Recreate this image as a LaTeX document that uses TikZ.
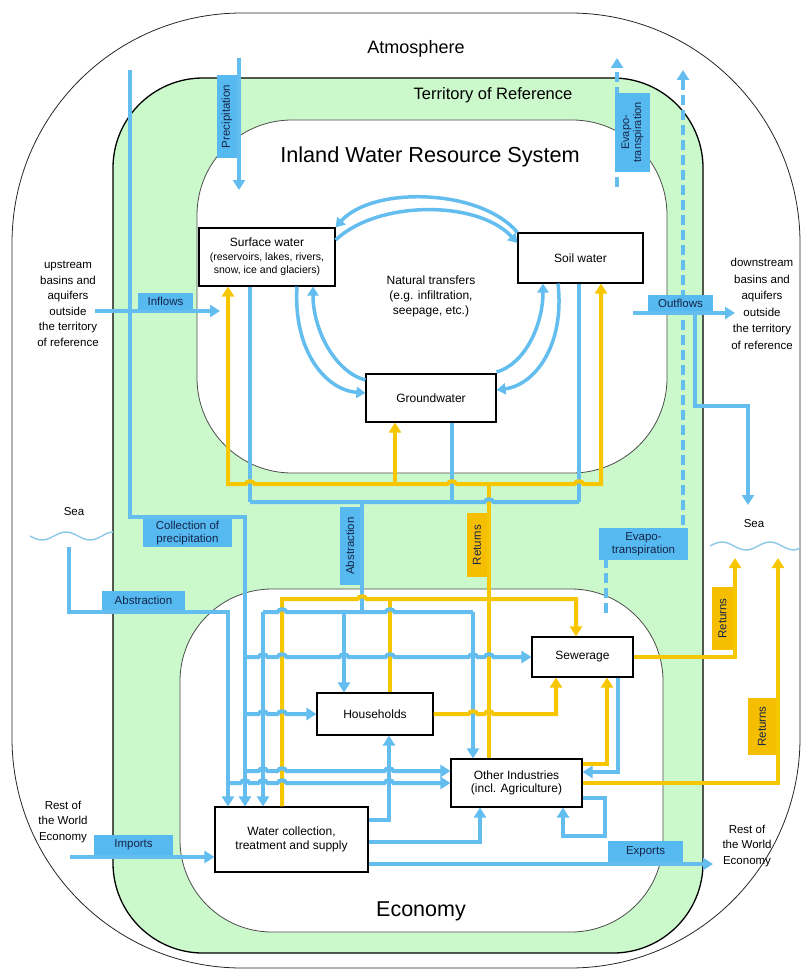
\documentclass[tikz,border=0pt]{standalone}
\usepackage{fontspec}
\setmainfont{Liberation Sans}
\usetikzlibrary{arrows.meta}
\definecolor{cBlue}{HTML}{63BDEE}
\definecolor{cLab}{HTML}{56B9F0}
\definecolor{cYel}{HTML}{F6C600}
\definecolor{cYlab}{HTML}{F5BE00}
\definecolor{cGreen}{HTML}{CCF9CC}
\definecolor{cTxt}{HTML}{15254A}
\definecolor{cWave}{HTML}{8FCBE8}
\newcommand\hp[2]{-- ({#1-4.5},#2) to[out=70,in=110,looseness=1.1] ({#1+4.5},#2)}
\begin{document}
\begin{tikzpicture}[x=1pt,y=-1pt,
  bl/.style={draw=cBlue,line width=4pt},
  ye/.style={draw=cYel,line width=4pt},
  arr/.style={-{Triangle[width=12pt,length=10pt]}},
  arrb/.style={{Triangle[width=12pt,length=10pt]}-{Triangle[width=12pt,length=10pt]}},
  nat/.style={draw=cBlue,line width=3.5pt,-{Triangle[width=11pt,length=9pt]}},
  dsh/.style={dash pattern=on 10pt off 5pt},
  box/.style={draw=black,line width=1.1pt,fill=white,align=center,inner sep=0pt,font=\fontsize{12}{13.5}\selectfont},
  blab/.style={fill=cLab,text=cTxt,align=center,inner sep=0pt,font=\fontsize{11.5}{12.5}\selectfont},
  ylab/.style={fill=cYlab,text=cTxt,align=center,inner sep=0pt,font=\fontsize{11.5}{12.5}\selectfont},
  otxt/.style={align=center,inner sep=0pt,font=\fontsize{11.5}{15.5}\selectfont},
  wave/.style={draw=cWave,line width=1.5pt}
]
\useasboundingbox (0,0) rectangle (801,971);
% regions
\draw[line width=0.8pt,black!85,rounded corners=230pt] (12,13) rectangle (800,968);
\filldraw[fill=cGreen,draw=black,line width=1.3pt,rounded corners=90pt] (113,78) rectangle (703,953);
\filldraw[fill=white,draw=black!70,line width=0.8pt,rounded corners=95pt] (197,120) rectangle (667,473);
\filldraw[fill=white,draw=black!70,line width=0.8pt,rounded corners=92pt] (180,589) rectangle (663,932);

% titles
\node[font=\fontsize{18}{20}\selectfont] (atm) at (416,49) {Atmosphere};
\node[font=\fontsize{16.5}{18}\selectfont] (terr) at (493,95) {Territory of Reference};
\node[font=\fontsize{21.7}{24}\selectfont] (iwrs) at (430,157) {Inland Water Resource System};
\node[font=\fontsize{21.5}{24}\selectfont] (eco) at (421,911) {Economy};

% outside texts
\node[otxt] (up) at (68,304) {upstream\\basins and\\aquifers\\outside\\the territory\\of reference};
\node[otxt,font=\fontsize{11.5}{16.5}\selectfont] (down) at (762,304) {downstream\\basins and\\aquifers\\outside\\the territory\\of reference};
\node[otxt] (sea1) at (74,512) {Sea};
\node[otxt] (sea2) at (754,524) {Sea};
\node[otxt] (row1) at (63,822) {Rest of\\the World\\Economy};
\node[otxt] (row2) at (747,846) {Rest of\\the World\\Economy};
\draw[wave] (30,536) sin (42,540) cos (54,536) sin (66,532) cos (78,536) sin (90,540) cos (102,536) sin (113,532);
\draw[wave] (710,546) sin (722,542) cos (734,546) sin (746,550) cos (758,546) sin (770,542) cos (782,546) sin (794,550) cos (800,548);

% boxes
\node[box,minimum width=136pt,minimum height=58pt] (sw) at (267,257) {Surface water\\{\fontsize{10.5}{13.5}\selectfont (reservoirs, lakes, rivers,}\\{\fontsize{10.5}{13.5}\selectfont snow, ice and glaciers)}};
\node[box,minimum width=125pt,minimum height=50pt] (soil) at (580.5,258) {Soil water};
\node[box,minimum width=130pt,minimum height=48pt] (gw) at (431,398) {Groundwater};
\node[box,minimum width=116pt,minimum height=42pt] (hh) at (375,714) {Households};
\node[box,minimum width=101pt,minimum height=40pt] (sew) at (582.5,657) {Sewerage};
\node[box,minimum width=131pt,minimum height=48pt] (oi) at (516.5,783) {Other Industries\\(incl. Agriculture)};
\node[box,minimum width=153pt,minimum height=65pt] (wc) at (291.5,839.5) {Water collection,\\treatment and supply};
\node[align=center,inner sep=0pt,font=\fontsize{12}{15}\selectfont] (nt) at (431,296) {Natural transfers\\(e.g. infiltration,\\seepage, etc.)};

% free-end coordinates
\coordinate (precA) at (239,58);  \coordinate (precB) at (239,190);
\coordinate (evA) at (617,187);   \coordinate (evB) at (617,58);
\coordinate (ev2A) at (606,613);  \coordinate (ev2B) at (683,70);
\coordinate (inA) at (95,311);    \coordinate (inB) at (220,311);
\coordinate (outA) at (633,313);  \coordinate (outB) at (735,313);
\coordinate (seaR) at (748,505);
\coordinate (colA) at (130,70);
\coordinate (seaL) at (69,547);
\coordinate (imA) at (70,857);
\coordinate (exB) at (713,864);
\coordinate (retS1) at (735,558);
\coordinate (retS2) at (778,558);

% atmosphere / outside flows
\draw[bl,arr] (precA) -- (precB);
\draw[bl,dsh,arr] (evA) -- (evB);
\draw[bl,dsh,arr] (ev2A) -- (606,545) -- (683,545) -- (ev2B);
\draw[bl,arr] (inA) -- (inB);
\draw[bl,arr] (outA) -- (outB);
\draw[bl,arr] (695,313) -- (695,406) -- (748,406) -- (seaR);

% natural transfers
\draw[nat] (soil.north west) .. controls (480,188) and (372,186) .. (sw.north east);
\draw[nat] (sw.east |- 0,240) .. controls (378,200) and (478,200) .. (soil.west |- 0,243);
\draw[nat] (297,0 |- sw.south) .. controls (293,350) and (325,390) .. (gw.west |- 0,393);
\draw[nat] (gw.west |- 0,380) .. controls (335,372) and (313,330) .. (313,0 |- sw.south);
\draw[nat] (558,0 |- soil.south) .. controls (565,345) and (535,385) .. (gw.east |- 0,390);
\draw[nat] (gw.east |- 0,372) .. controls (525,364) and (543,325) .. (543,0 |- soil.south);

% verticals first
\draw[bl,arr] (colA) -- (130,517) -- (245,517) -- (245,0 |- wc.north);
\draw[bl,arr] (seaL) -- (69,612) -- (228,612) -- (228,0 |- wc.north);
\draw[bl] (250,0 |- sw.south) -- (250,502);
\draw[bl] (452,0 |- gw.south) -- (452,502);
\draw[bl] (579,0 |- soil.south) -- (579,502);
\draw[ye] (489,0 |- oi.north) -- (489,484);
\draw[bl] (250,502) \hp{489}{502} -- (579,502);
\draw[bl] (362,502) -- (362,612);
\draw[ye,arrb] (228,0 |- sw.south) -- (228,484) \hp{250}{484} \hp{452}{484} \hp{579}{484} -- (601,484) -- (601,0 |- soil.south);
\draw[ye,arr] (395,484) -- (395,0 |- gw.south);
\draw[bl,arr] (263,612) -- (263,0 |- wc.north);
\draw[bl,arr] (344,612) -- (344,0 |- hh.north);
\draw[bl,arr] (473,612) -- (473,0 |- oi.north);
\draw[ye] (390,0 |- hh.north) -- (390,599);
\draw[ye,arr] (282,0 |- wc.north) -- (282,599) \hp{362}{599} -- (576,599) -- (576,0 |- sew.north);
\draw[bl,arr] (wc.east |- 0,820) -- (389,820) -- (389,0 |- hh.south);
\draw[bl] (263,612) \hp{282}{612} -- (344,612) \hp{390}{612} -- (473,612);

% horizontals with hops
\draw[bl,arr] (245,657) \hp{263}{657} \hp{282}{657} \hp{344}{657} \hp{390}{657} \hp{473}{657} \hp{489}{657} -- (sew.west);
\draw[bl,arr] (245,714) \hp{263}{714} \hp{282}{714} -- (hh.west);
\draw[bl,arr] (245,771) \hp{263}{771} \hp{282}{771} \hp{389}{771} -- (oi.west |- 0,771);
\draw[bl,arr] (228,783) \hp{245}{783} \hp{263}{783} \hp{282}{783} \hp{389}{783} -- (oi.west |- 0,783);
\draw[ye,arr] (hh.east) \hp{473}{714} \hp{489}{714} -- (556,714) -- (556,0 |- sew.south);
\draw[ye,arr] (oi.east |- 0,764) -- (607,764) -- (607,0 |- sew.south);
\draw[bl,arr] (618,0 |- sew.south) -- (618,772) -- (oi.east |- 0,772);
\draw[bl,arr] (oi.east |- 0,798) -- (605,798) -- (605,836) -- (563,836) -- (563,0 |- oi.south);
\draw[ye,arr] (sew.east) -- (735,657) -- (retS1);
\draw[ye,arr] (oi.east |- 0,783) -- (778,783) -- (retS2);
\draw[bl,arr] (wc.east |- 0,842) -- (480,842) -- (480,0 |- oi.south);
\draw[bl,arr] (wc.east |- 0,864) -- (exB);
\draw[bl,arr] (imA) -- (wc.west |- 0,857);

% labels
\node[blab,rotate=90,minimum width=83pt,minimum height=20pt] (lprec) at (227,116.5) {Precipitation};
\node[blab,rotate=90,minimum width=79pt,minimum height=35pt,font=\fontsize{11}{12}\selectfont] (levt) at (632.5,132.5) {Evapo-\\transpiration};
\node[blab,minimum width=55pt,minimum height=17pt] (lin) at (165.5,301.5) {Inflows};
\node[blab,minimum width=65pt,minimum height=16pt] (lout) at (680.5,303) {Outflows};
\node[blab,minimum width=89pt,minimum height=28pt] (lcol) at (187.5,533) {Collection of\\precipitation};
\node[blab,minimum width=83pt,minimum height=19pt] (labl) at (143.5,600.5) {Abstraction};
\node[blab,rotate=90,minimum width=78pt,minimum height=20pt] (labv) at (350,546) {Abstraction};
\node[ylab,rotate=90,minimum width=64pt,minimum height=20pt] (lret) at (477,545) {Returns};
\node[blab,minimum width=89pt,minimum height=32pt] (levl) at (643.5,544) {Evapo-\\transpiration};
\node[ylab,rotate=90,minimum width=63pt,minimum height=21pt] (lr1) at (722.5,618.5) {Returns};
\node[ylab,rotate=90,minimum width=57pt,minimum height=28pt] (lr2) at (762,726.5) {Returns};
\node[blab,minimum width=79pt,minimum height=20pt] (limp) at (133.5,845) {Imports};
\node[blab,minimum width=75pt,minimum height=21pt] (lexp) at (645.5,851.5) {Exports};
\end{tikzpicture}
\end{document}
